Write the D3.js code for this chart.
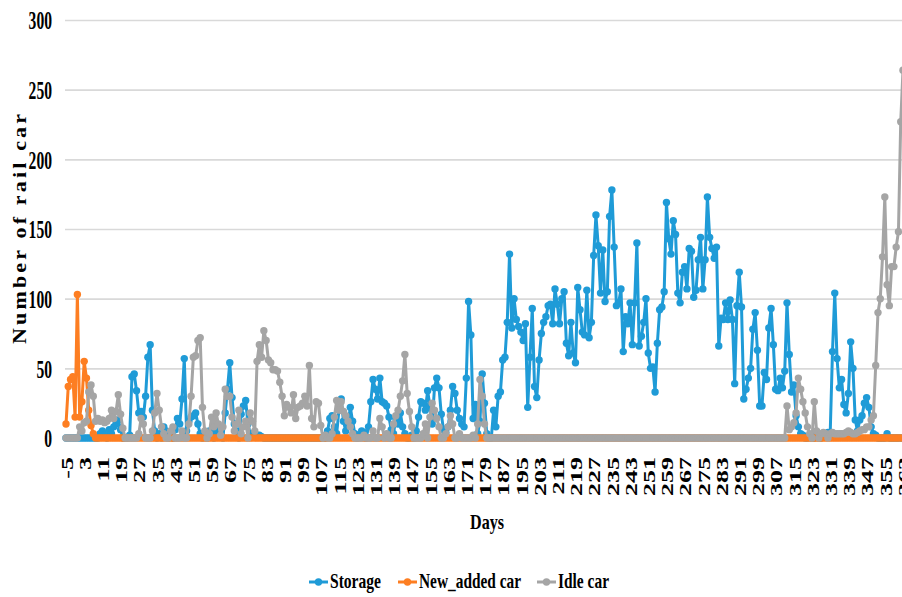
<!DOCTYPE html>
<html>
<head>
<meta charset="utf-8">
<script src="https://cdn.jsdelivr.net/npm/d3@7"></script>
<style>
  body { margin: 0; background: #fff; }
  text { font-family: "Liberation Serif", "Times New Roman", serif; font-weight: bold; fill: #000; }
</style>
</head>
<body>
<svg id="chart"></svg>
<script>
// chart values, one per day starting at day -5

var firstDay = -5;

var storage = [
	0,0,0,0,0,0,0,0,0,0,                      // -5..4
	0,0,0,0,0,3,5,2,0,6,                      // 5..14
	3,8,10,13,6,0,0,0,2,44,                   // 15..24
	46,34,18,19,15,30,58,67,20,5,             // 25..34
	0,3,0,8,5,0,3,0,6,14,                     // 35..44
	10,28,57,5,12,15,16,18,10,3,              // 45..54
	0,2,0,5,3,0,5,8,2,0,                      // 55..64
	18,35,54,29,10,5,0,17,23,27,              // 65..74
	10,3,3,2,2,2,1,0,0,0,                     // 75..84
	0,0,0,0,0,0,0,0,0,0,                      // 85..94
	0,0,0,0,0,0,0,0,0,0,                      // 95..104
	0,0,0,0,0,5,14,16,8,3,                    // 105..114
	20,28,12,5,10,22,12,3,0,2,                // 115..124
	5,4,0,8,26,42,35,28,43,26,                // 125..134
	25,23,15,6,3,14,10,18,8,3,                // 135..144
	0,0,2,0,5,15,26,25,20,34,                 // 145..154
	23,10,36,43,36,17,6,4,8,20,               // 155..164
	37,32,20,14,10,8,43,98,74,14,             // 165..174
	24,3,12,46,25,3,0,0,20,8,                 // 175..184
	30,33,56,58,83,132,79,100,85,80,          // 185..194
	76,70,82,22,58,93,37,29,56,75,            // 195..204
	83,87,95,96,82,107,96,82,100,105,         // 205..214
	68,59,83,61,54,108,92,76,74,106,          // 215..224
	72,83,131,160,138,104,135,98,105,159,     // 225..234
	178,137,95,97,107,62,87,82,97,67,         // 235..244
	97,140,66,73,83,100,61,50,51,33,          // 245..254
	68,92,94,105,169,143,132,156,146,104,     // 255..264
	97,119,123,107,136,134,101,106,128,144,   // 265..274
	107,128,173,144,136,129,137,66,86,85,     // 275..284
	97,85,99,85,39,95,119,94,28,35,           // 285..294
	43,50,78,90,63,23,23,47,42,79,            // 295..304
	93,67,35,34,43,36,48,97,60,33,            // 305..314
	38,16,8,3,2,0,0,2,0,0,                    // 315..324
	3,0,0,2,3,4,4,62,104,57,                  // 325..334
	36,42,24,18,32,69,50,13,5,13,             // 335..344
	16,25,29,22,8,3,2,0,0,0,                  // 345..354
	0,3,0,0,0,0,0,0,0                         // 355..363
];

var newAdded = [
	10,37,42,44,15,103,15,26,55,43,20,9,3,0,0,0,0,0,0,0,   // -5..14
	0,0,0,0,0,0,0,0,0,0,0,0,0,0,0,0,0,0,0,0,   // 15..34
	0,0,0,0,0,0,0,0,0,0,0,0,0,0,0,0,0,0,0,0,   // 35..54
	0,0,0,0,0,0,0,0,0,0,0,0,0,0,0,0,0,0,0,0,   // 55..74
	0,0,0,0,0,0,0,0,0,0,0,0,0,0,0,0,0,0,0,0,   // 75..94
	0,0,0,0,0,0,0,0,0,0,0,0,0,0,0,0,0,0,0,0,   // 95..114
	0,0,0,0,0,0,0,0,0,0,0,0,0,0,0,0,0,0,0,0,   // 115..134
	0,0,0,0,0,0,0,0,0,0,0,0,0,0,0,0,0,0,0,0,   // 135..154
	0,0,0,0,0,0,0,0,0,0,0,0,0,0,0,0,0,0,0,0,   // 155..174
	0,0,0,0,0,0,0,0,0,0,0,0,0,0,0,0,0,0,0,0,   // 175..194
	0,0,0,0,0,0,0,0,0,0,0,0,0,0,0,0,0,0,0,0,   // 195..214
	0,0,0,0,0,0,0,0,0,0,0,0,0,0,0,0,0,0,0,0,   // 215..234
	0,0,0,0,0,0,0,0,0,0,0,0,0,0,0,0,0,0,0,0,   // 235..254
	0,0,0,0,0,0,0,0,0,0,0,0,0,0,0,0,0,0,0,0,   // 255..274
	0,0,0,0,0,0,0,0,0,0,0,0,0,0,0,0,0,0,0,0,   // 275..294
	0,0,0,0,0,0,0,0,0,0,0,0,0,0,0,0,0,0,0,0,   // 295..314
	0,0,0,0,0,0,0,0,0,0,0,0,0,0,0,0,0,0,0,0,   // 315..334
	0,0,0,0,0,0,0,0,0,0,0,0,0,0,0,0,0,0,0,0,   // 335..354
	0,0,0,0,0,0,0,0,0                          // 355..363
];

var idleCar = [
	0,0,0,0,0,0,8,5,11,12,                    // -5..4
	33,38,30,12,14,12,13,11,12,14,            // 5..14
	20,14,19,31,17,7,0,0,0,0,                 // 15..24
	0,0,3,14,10,0,0,0,5,18,                   // 25..34
	32,20,8,3,0,0,5,8,0,0,                    // 35..44
	0,5,0,0,10,30,58,59,70,72,                // 45..54
	22,5,0,3,15,8,18,10,2,8,                  // 55..64
	35,30,30,15,5,10,20,3,8,12,               // 65..74
	0,18,12,5,55,67,58,77,70,56,              // 75..84
	54,49,49,48,40,30,16,24,22,18,            // 85..94
	31,14,22,23,25,30,23,52,14,8,             // 95..104
	26,25,9,0,2,0,0,3,15,27,                  // 105..114
	20,26,19,16,12,8,3,0,0,0,                 // 115..124
	0,2,0,0,0,5,0,0,14,8,                     // 125..134
	0,3,0,0,10,16,20,30,41,60,                // 135..144
	32,19,8,0,0,0,0,3,10,0,                   // 145..154
	15,25,20,14,8,0,0,3,8,16,                 // 155..164
	10,0,0,3,0,0,0,0,0,2,                     // 165..174
	0,10,42,30,10,0,0,0,0,0,                  // 175..184
	0,0,0,0,0,0,0,0,0,0,0,0,0,0,0,0,0,0,0,0,  // 185..204
	0,0,0,0,0,0,0,0,0,0,0,0,0,0,0,0,0,0,0,0,  // 205..224
	0,0,0,0,0,0,0,0,0,0,0,0,0,0,0,0,0,0,0,0,  // 225..244
	0,0,0,0,0,0,0,0,0,0,0,0,0,0,0,0,0,0,0,0,  // 245..264
	0,0,0,0,0,0,0,0,0,0,0,0,0,0,0,0,0,0,0,0,  // 265..284
	0,0,0,0,0,0,0,0,0,0,0,0,0,0,0,0,0,0,0,0,  // 285..304
	0,0,0,0,0,0,0,23,6,8,                     // 305..314
	11,18,43,35,26,18,8,3,0,26,               // 315..324
	5,0,3,4,3,0,3,4,3,3,                      // 325..334
	3,3,3,4,5,4,3,3,4,5,                      // 335..344
	6,6,8,8,13,16,52,90,100,130,              // 345..354
	173,110,95,123,123,137,148,227,264        // 355..363
];

var seriesNames = ['Storage', 'New_added car', 'Idle car'];
var seriesColors = ['#1f9bd7', '#fd7e22', '#a5a5a5'];

var dayTicks = [-5,3,11,19,27,35,43,51,59,67,75,83,91,99,107,115,123,131,139,147,155,163,
	171,179,187,195,203,211,219,227,235,243,251,259,267,275,283,291,299,307,315,323,331,
	339,347,355,363];
var valueTicks = [0, 50, 100, 150, 200, 250, 300];

// svg measurements

var width = 902,
	height = 597,
	plotLeft = 65,
	plotTop = 20,
	plotBottom = 438;

var series = [storage, newAdded, idleCar].map(function(vals, k) {
	return {
		name: seriesNames[k],
		color: seriesColors[k],
		points: vals.map(function(v, i) { return { day: firstDay + i, value: v }; })
	};
});

var xScale = d3.scaleLinear()
				.domain([-5, 363])
				.range([66, 903]);

var yScale = d3.scaleLinear()
				.domain([0, 300])
				.range([plotBottom, plotTop]);

var svg = d3.select('#chart')
			.attr('width', width)
			.attr('height', height)
			.style('display', 'block');

svg.append('rect')
	.attr('width', width)
	.attr('height', height)
	.attr('fill', '#fff');

// gridlines + value labels
var yAxis = d3.axisLeft(yScale)
			  .tickValues(valueTicks)
			  .tickSize(-(width - plotLeft))
			  .tickFormat(d3.format('d'));

var gy = svg.append('g')
	.attr('transform', 'translate(' + plotLeft + ',0)')
	.call(yAxis);
gy.select('.domain').remove();
gy.selectAll('line').attr('stroke', '#d9d9d9').attr('stroke-width', 1.6);
gy.selectAll('text')
	.attr('x', 0)
	.attr('dy', '0.34em')
	.attr('text-anchor', 'end')
	.attr('transform', 'translate(-13,0) scale(0.6,1)')
	.style('font-size', '26px');

// day labels
var xAxis = d3.axisBottom(xScale)
			  .tickValues(dayTicks)
			  .tickSize(0)
			  .tickFormat(function(d) { return String(d); });

var gx = svg.append('g')
	.attr('transform', 'translate(0,' + plotBottom + ')')
	.call(xAxis);
gx.select('.domain').attr('stroke', '#d9d9d9').attr('stroke-width', 1.6)
	.attr('d', 'M' + plotLeft + ',0H' + width);
gx.selectAll('text')
	.attr('x', 0)
	.attr('y', 0)
	.attr('dy', '0.35em')
	.attr('text-anchor', 'end')
	.attr('transform', 'translate(0,19) scale(0.68,1) rotate(-90)')
	.style('font-size', '26px');

// series: line then markers, gray drawn last
var line = d3.line()
	.x(d => xScale(d.day))
	.y(d => yScale(d.value));

series.forEach(function(s) {
	var g = svg.append('g');
	g.append('path')
		.datum(s.points)
		.attr('fill', 'none')
		.attr('stroke', s.color)
		.attr('stroke-width', 3)
		.attr('stroke-linejoin', 'round')
		.attr('d', line);
	g.selectAll('circle')
		.data(s.points)
		.enter()
		.append('circle')
			.attr('cx', d => xScale(d.day))
			.attr('cy', d => yScale(d.value))
			.attr('r', 3.7)
			.attr('fill', s.color);
});

// axis titles

svg.append('text')
	.attr('transform', 'translate(26,229) scale(0.85,1) rotate(-90)')
	.attr('text-anchor', 'middle')
	.attr('textLength', 230)
	.attr('lengthAdjust', 'spacing')
	.style('font-size', '22px')
	.text('Number of rail car');

svg.append('text')
	.attr('x', 487)
	.attr('y', 529)
	.attr('text-anchor', 'middle')
	.attr('textLength', 34)
	.attr('lengthAdjust', 'spacingAndGlyphs')
	.style('font-size', '21px')
	.text('Days');

// legend
var legendX = [309, 398, 537],
	legendW = [51, 102, 51];

var legend = svg.append('g')
	.selectAll('g')
	.data(series)
	.enter()
	.append('g')
		.attr('transform', (d, i) => 'translate(' + legendX[i] + ',582)');

legend.append('line')
	.attr('x1', 0)
	.attr('x2', 19)
	.attr('stroke', d => d.color)
	.attr('stroke-width', 3);
legend.append('circle')
	.attr('cx', 9.5)
	.attr('r', 3.7)
	.attr('fill', d => d.color);
legend.append('text')
	.attr('x', 21)
	.attr('y', 6)
	.attr('textLength', (d, i) => legendW[i])
	.attr('lengthAdjust', 'spacingAndGlyphs')
	.style('font-size', '21px')
	.text(d => d.name);
</script>
</body>
</html>
